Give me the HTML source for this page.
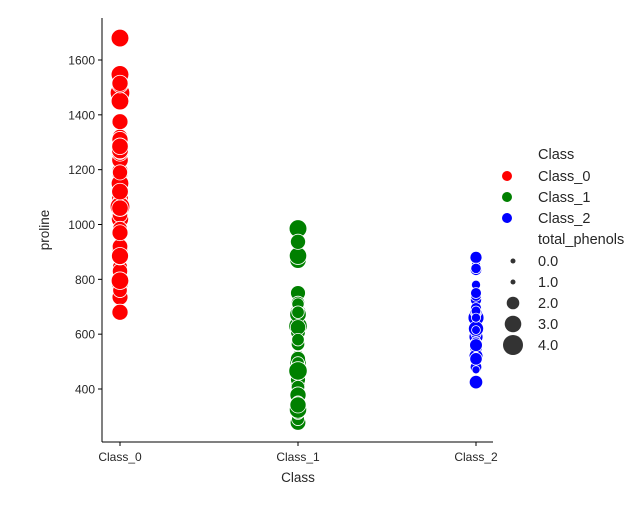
<!DOCTYPE html>
<html><head><meta charset="utf-8"><style>
body{margin:0;background:#fff;}
svg text{font-family:"Liberation Sans","DejaVu Sans",sans-serif;fill:#262626;}
</style></head><body>
<svg id="chart" width="643" height="500">
<g id="axes"></g>
<g id="points"></g>
<g id="legend"></g>
</svg>
<script>
const categories=["Class_0","Class_1","Class_2"];
const colors=["#ff0000","#008000","#0000ff"];
const yTicks=[400,600,800,1000,1200,1400,1600];
const proline0=[1065,1050,1185,1480,735,1450,1290,1295,1045,1045,1510,1280,1320,1150,1547,1310,1280,1130,1680,845,780,770,1035,1015,845,830,1195,1285,915,1035,1285,1515,990,1235,1095,920,880,1105,1020,760,795,1035,1095,680,885,1080,1065,985,1060,1260,1150,1265,1190,1375,1060,1120,970,1270,1285];
const phenols0=[2.8,2.65,2.8,3.85,2.8,3.27,2.5,2.6,2.8,2.98,2.95,2.2,2.6,3.1,3.3,2.85,2.8,2.95,3.3,2.7,3.0,2.41,2.61,2.48,2.53,2.63,2.85,2.4,2.95,2.65,3.0,2.86,2.42,2.95,2.35,2.7,2.6,2.45,3.15,2.45,3.25,2.64,3.0,2.85,3.1,2.72,3.88,2.45,2.6,2.8,3.25,2.6,2.6,2.8,2.95,3.0,2.8,3.0,2.95];
const proline1=[520,680,450,630,420,355,678,502,510,750,718,870,410,472,985,886,428,392,500,750,463,278,714,630,515,520,450,495,562,680,625,480,450,495,290,345,937,625,428,660,406,710,562,438,415,672,315,510,488,312,680,562,325,607,434,385,407,495,345,372,564,625,465,365,380,380,378,352,466,342,580];
const phenols1=[1.98,2.05,2.02,3.5,1.89,2.42,2.98,2.11,2.53,1.85,1.1,2.95,1.88,3.3,3.3,3.2,1.6,2.45,3.02,2.55,3.52,2.72,2.2,2.2,1.78,1.38,1.45,2.2,1.38,2.22,1.88,1.95,2.48,1.1,2.05,2.86,2.6,2.13,2.2,1.7,1.61,1.95,1.72,1.9,2.45,2.95,1.63,2.56,1.9,2.0,2.0,2.2,3.18,2.5,2.55,2.53,2.2,2.0,1.68,1.65,2.2,2.65,2.8,1.68,2.42,1.98,2.86,2.0,3.5,2.86,2.0];
const proline2=[630,530,560,600,650,695,720,515,580,590,600,780,520,550,855,830,415,625,650,550,500,480,425,675,640,725,480,880,660,620,520,680,570,675,615,520,695,685,750,510,470,660,740,750,835,840,560];
const phenols2=[1.51,1.3,1.15,1.7,2.0,1.62,1.38,1.79,1.62,2.32,1.54,1.4,1.55,2.0,1.38,1.5,0.98,1.7,1.93,1.41,1.4,1.48,2.2,1.8,1.48,1.74,1.8,1.9,2.8,2.6,2.3,1.83,1.65,1.39,1.35,1.28,1.7,1.48,1.55,1.98,1.25,1.39,1.68,1.68,1.8,1.59,2.05];
const NS="http://www.w3.org/2000/svg";
const X0=102,X1=493,Y0=18,Y1=442;
function xScale(i){return 120+i*178;}
function yScale(v){return 389-(v-400)*(329/1200);}
function rScale(p){return Math.sqrt(Math.max(9,9+(p-1)*30.3));}
function mk(tag,attrs,parent){const e=document.createElementNS(NS,tag);for(const k in attrs)e.setAttribute(k,attrs[k]);parent.appendChild(e);return e;}
const axes=document.getElementById('axes');
let l=mk('line',{x1:X0,y1:Y0,x2:X0,y2:Y1,stroke:'#000','stroke-width':1},axes);

l=mk('line',{x1:X0,y1:Y1,x2:X1,y2:Y1,stroke:'#000','stroke-width':1},axes);

yTicks.forEach(v=>{const y=yScale(v);
 let t=mk('line',{x1:X0-4,y1:y,x2:X0,y2:y,stroke:'#000'},axes);
 
 let tx=mk('text',{x:X0-7,y:y+4.5,'text-anchor':'end','font-size':12},axes);tx.textContent=v;
 });
categories.forEach((c,i)=>{const x=xScale(i);
 let t=mk('line',{x1:x,y1:Y1,x2:x,y2:Y1+4,stroke:'#000'},axes);
 
 let tx=mk('text',{x:x,y:Y1+19,'text-anchor':'middle','font-size':12},axes);tx.textContent=c;
 });
let xt=mk('text',{x:298,y:482,'text-anchor':'middle','font-size':13.5},axes);xt.textContent='Class';

let yt=mk('text',{x:49,y:230,'text-anchor':'middle','font-size':13.5,transform:'rotate(-90 49 230)'},axes);yt.textContent='proline';

const pts=document.getElementById('points');
[[proline0,phenols0],[proline1,phenols1],[proline2,phenols2]].forEach((d,i)=>{
 d[0].forEach((v,j)=>{const c=mk('circle',{cx:xScale(i),cy:yScale(v),r:rScale(d[1][j]),fill:colors[i],stroke:'#fff','stroke-width':0.8},pts);
 
 });});
const lg=document.getElementById('legend');
let h=mk('text',{x:538,y:159,'font-size':14.5},lg);h.textContent='Class';

categories.forEach((c,i)=>{const y=176+i*21;
 let m=mk('circle',{cx:507,cy:y,r:5,fill:colors[i]},lg);
 
 let t=mk('text',{x:538,y:y+5,'font-size':14.5},lg);t.textContent=c;
 });
h=mk('text',{x:538,y:244,'font-size':14.5},lg);h.textContent='total_phenols';

const sizeLabels=["0.0","1.0","2.0","3.0","4.0"];
const sizeRadii=[2.5,2.5,6.3,8.3,10];
sizeLabels.forEach((s,i)=>{const y=261+i*21;
 let m=mk('circle',{cx:513,cy:y,r:sizeRadii[i],fill:'#333'},lg);
 
 let t=mk('text',{x:538,y:y+5,'font-size':14.5},lg);t.textContent=s;
 });
</script>
</body></html>
